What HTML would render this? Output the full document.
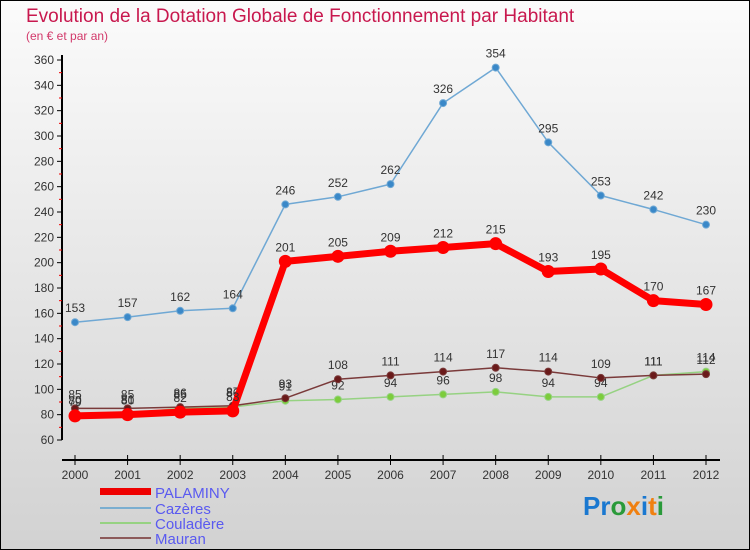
<!DOCTYPE html>
<html><head><meta charset="utf-8"><style>
body{margin:0;width:750px;height:550px;overflow:hidden}
svg{display:block;font-family:"Liberation Sans",sans-serif}
</style></head><body>
<svg id="c" width="750" height="550">
<defs><linearGradient id="bg" x1="0" y1="0" x2="0" y2="1"><stop offset="0" stop-color="#fbfbfb"/><stop offset="1" stop-color="#d2d2d2"/></linearGradient></defs>
<rect x="0.5" y="0.5" width="749" height="549" fill="url(#bg)" stroke="#000"/>
<text x="26" y="22" font-size="19" fill="#c8184e">Evolution de la Dotation Globale de Fonctionnement par Habitant</text>
<text x="26" y="40" font-size="12" fill="#d2386a">(en € et par an)</text>
<g id="axes"></g><g id="series"></g>
<g>
<rect x="100" y="488" width="51" height="7" fill="#e00"/>
<text x="155" y="498" font-size="15" fill="#5a5af0">PALAMINY</text>
<rect x="100" y="507" width="51" height="2" fill="#7aaed0"/>
<text x="155" y="514" font-size="15" fill="#5a5af0">Cazères</text>
<rect x="100" y="522" width="51" height="2" fill="#96d282"/>
<text x="155" y="529" font-size="15" fill="#5a5af0">Couladère</text>
<rect x="100" y="537" width="51" height="2" fill="#8c5a5a"/>
<text x="155" y="544" font-size="15" fill="#5a5af0">Mauran</text>
</g>
<g font-size="26" font-weight="bold">
<text x="583" y="515"><tspan fill="#1a78d0">Pr</tspan><tspan fill="#2a9a3a">o</tspan><tspan fill="#f08010">x</tspan><tspan fill="#1a78d0">i</tspan><tspan fill="#f08010">t</tspan><tspan fill="#2a9a3a">i</tspan></text>
</g>
</svg>
<script>
const years=[2000,2001,2002,2003,2004,2005,2006,2007,2008,2009,2010,2011,2012];
const yTicks=[60,80,100,120,140,160,180,200,220,240,260,280,300,320,340,360];
const palaminy=[79,80,82,83,201,205,209,212,215,193,195,170,167];
const cazeres=[153,157,162,164,246,252,262,326,354,295,253,242,230];
const couladere=[80,81,85,86,91,92,94,96,98,94,94,111,114];
const mauran=[85,85,86,87,93,108,111,114,117,114,109,111,112];
const NS="http://www.w3.org/2000/svg";
const X=i=>75+i*(706-75)/12;
const Y=v=>440-(v-60)*(380/300);
function mk(t,a,p){const e=document.createElementNS(NS,t);for(const k in a)e.setAttribute(k,a[k]);p.appendChild(e);return e;}
const ax=document.getElementById('axes');
let e=mk('line',{x1:62,y1:Y(360)-5,x2:62,y2:440,stroke:'#000','stroke-width':2},ax);


e=mk('line',{x1:62,y1:460,x2:720,y2:460,stroke:'#000','stroke-width':2},ax);


yTicks.forEach(v=>{
 mk('line',{x1:57,y1:Y(v),x2:62,y2:Y(v),stroke:'#000'},ax);
 if(v<360)mk('line',{x1:59,y1:Y(v+10),x2:62,y2:Y(v+10),stroke:'#e00'},ax);
 const t=mk('text',{x:54,y:Y(v)+4,'font-size':12,fill:'#333','text-anchor':'end'},ax);t.textContent=v;
 
 
});
years.forEach((y,i)=>{
 mk('line',{x1:X(i),y1:455,x2:X(i),y2:465,stroke:'#000'},ax);
 const t=mk('text',{x:X(i),y:479,'font-size':12,fill:'#333','text-anchor':'middle'},ax);t.textContent=y;
 
 
});
const sg=document.getElementById('series');
function series(name,data,color,w,dotFill,r,labels){
 const g=mk('g',{},sg);
 
 
 mk('polyline',{points:data.map((v,i)=>X(i)+','+Y(v)).join(' '),fill:'none',stroke:color,'stroke-width':w,'stroke-linejoin':'round'},g);
 data.forEach((v,i)=>{
  const c=mk('circle',{cx:X(i),cy:Y(v),r:r,fill:dotFill,stroke:color,'stroke-width':1},g);
  
  
  if(labels){const t=mk('text',{x:X(i),y:Y(v)-10,'font-size':12,fill:'#333','text-anchor':'middle'},g);t.textContent=v;}
 });
}
series('couladere',couladere,'#96d282',1.5,'#7ccc3c',3.5,true);
series('mauran',mauran,'#7a3a3a',1.5,'#6a1a1a',3.5,true);
series('cazeres',cazeres,'#6fa8d4',1.5,'#3a88c8',3.5,true);
series('palaminy',palaminy,'#f00',7,'#f00',6,true);
</script>
</body></html>
